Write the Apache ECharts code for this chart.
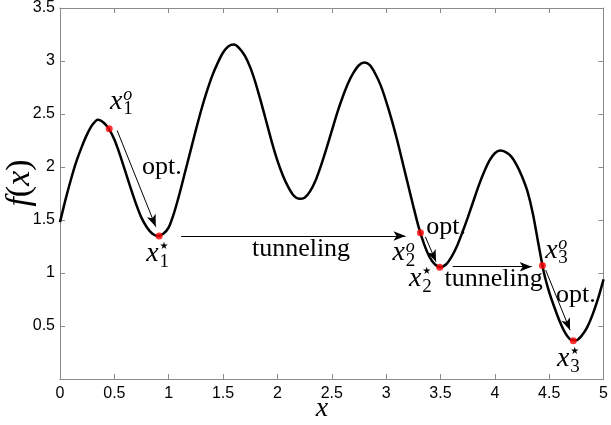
<!DOCTYPE html>
<html>
<head>
<meta charset="utf-8">
<script src="https://cdn.jsdelivr.net/npm/echarts@6/dist/echarts.min.js"></script>
<style>
  html, body { margin: 0; padding: 0; background: #fff; }
  #chart { width: 611px; height: 425px; }
</style>
</head>
<body>
<div id="chart"></div>
<script>
// curve f(x), every 0.05
const xValues = [0, 0.05, 0.1, 0.15, 0.2, 0.25, 0.3, 0.35, 0.4, 0.45,
  0.5, 0.55, 0.6, 0.65, 0.7, 0.75, 0.8, 0.85, 0.9, 0.95,
  1.0, 1.05, 1.1, 1.15, 1.2, 1.25, 1.3, 1.35, 1.4, 1.45,
  1.5, 1.55, 1.6, 1.65, 1.7, 1.75, 1.8, 1.85, 1.9, 1.95,
  2.0, 2.05, 2.1, 2.15, 2.2, 2.25, 2.3, 2.35, 2.4, 2.45,
  2.5, 2.55, 2.6, 2.65, 2.7, 2.75, 2.8, 2.85, 2.9, 2.95,
  3.0, 3.05, 3.1, 3.15, 3.2, 3.25, 3.3, 3.35, 3.4, 3.45,
  3.5, 3.55, 3.6, 3.65, 3.7, 3.75, 3.8, 3.85, 3.9, 3.95,
  4.0, 4.05, 4.1, 4.15, 4.2, 4.25, 4.3, 4.35, 4.4, 4.45,
  4.5, 4.55, 4.6, 4.65, 4.7, 4.75, 4.8, 4.85, 4.9, 4.95, 5.0];
const fValues = [1.48, 1.69, 1.88, 2.05, 2.19, 2.31, 2.40, 2.445, 2.42, 2.36,
  2.26, 2.12, 1.96, 1.80, 1.65, 1.52, 1.43, 1.37, 1.35, 1.37,
  1.43, 1.57, 1.75, 1.95, 2.15, 2.35, 2.54, 2.71, 2.86, 2.98,
  3.08, 3.14, 3.155, 3.12, 3.05, 2.94, 2.79, 2.61, 2.42, 2.23,
  2.06, 1.92, 1.81, 1.73, 1.70, 1.71, 1.77, 1.87, 2.01, 2.17,
  2.34, 2.51, 2.66, 2.79, 2.89, 2.96, 2.985, 2.96, 2.88, 2.77,
  2.62, 2.45, 2.26, 2.05, 1.84, 1.63, 1.43, 1.27, 1.15, 1.08,
  1.055, 1.08, 1.15, 1.25, 1.38, 1.52, 1.67, 1.82, 1.95, 2.06,
  2.13, 2.155, 2.14, 2.10, 2.02, 1.91, 1.77, 1.56, 1.28, 1.01,
  0.82, 0.67, 0.535, 0.43, 0.37, 0.365, 0.41, 0.49, 0.61, 0.76, 0.94];

// red points: start points x^o and minima x^*
const pointX = [0.453, 0.912, 3.316, 3.493, 4.438, 4.722];
const pointY = [2.36, 1.349, 1.38, 1.055, 1.07, 0.36];

// arrows (opt. / tunneling)
const arrowFrom = [[0.526, 2.344], [1.114, 1.349], [3.361, 1.342], [3.612, 1.059], [4.468, 1.027]];
const arrowTo = [[0.881, 1.437], [3.178, 1.349], [3.459, 1.106], [4.339, 1.059], [4.692, 0.46]];

// point labels: x with sup / sub, anchored in data coords
const pointLabels = [
  { at: [0.517, 2.59], sup: 'o', sub: '1' },
  { at: [0.850, 1.153], sup: '★', sub: '1' },
  { at: [3.116, 1.160], sup: 'o', sub: '2' },
  { at: [3.268, 0.919], sup: '★', sub: '2' },
  { at: [4.520, 1.185], sup: 'o', sub: '3' },
  { at: [4.630, 0.162], sup: '★', sub: '3' }
];
const wordLabels = [
  { at: [0.938, 1.97], text: 'opt.' },
  { at: [2.217, 1.196], text: 'tunneling' },
  { at: [3.552, 1.401], text: 'opt.' },
  { at: [3.988, 0.914], text: 'tunneling' },
  { at: [4.745, 0.767], text: 'opt.' }
];

const AXIS_GRAY = '#8a8a8a';
const SERIF = '"Liberation Serif", "Times New Roman", serif';

const chart = echarts.init(document.getElementById('chart'), null, { renderer: 'canvas' });

const axisCommon = {
  type: 'value',
  splitLine: { show: false },
  axisLine: { show: true, onZero: false, lineStyle: { color: AXIS_GRAY, width: 1 } },
  axisTick: { show: true, inside: true, length: 5, lineStyle: { color: AXIS_GRAY } },
  axisLabel: { color: '#000', fontFamily: '"Liberation Sans", Arial, sans-serif', fontSize: 16 }
};

const curve = xValues.map((x, i) => [x, fValues[i]]);
const points = pointX.map((x, i) => [x, pointY[i]]);
const arrows = arrowFrom.map((p, i) => [{ coord: p }, { coord: arrowTo[i] }]);

chart.setOption({
  animation: false,
  grid: { left: 60, right: 5, top: 8, bottom: 46 },
  xAxis: [
    Object.assign({}, axisCommon, {
      min: 0, max: 5, interval: 0.5, position: 'bottom',
      axisLabel: Object.assign({}, axisCommon.axisLabel, { margin: 7 })
    }),
    Object.assign({}, axisCommon, {
      min: 0, max: 5, interval: 0.5, position: 'top',
      axisLabel: { show: false }
    })
  ],
  yAxis: [
    Object.assign({}, axisCommon, {
      min: 0, max: 3.5, interval: 0.5, position: 'left',
      axisLabel: Object.assign({}, axisCommon.axisLabel, {
        margin: 5,
        formatter: function (v) { return v === 0 ? '' : v; }
      })
    }),
    Object.assign({}, axisCommon, {
      min: 0, max: 3.5, interval: 0.5, position: 'right',
      axisLabel: { show: false }
    })
  ],
  series: [
    {
      type: 'line',
      data: curve,
      smooth: 0.25,
      showSymbol: false,
      z: 3,
      lineStyle: { color: '#000', width: 2.5 },
      markLine: {
        silent: true,
        symbol: ['none', 'arrow'],
        symbolSize: [7, 12],
        label: { show: false },
        lineStyle: { color: '#000', width: 1, type: 'solid' },
        emphasis: { disabled: true },
        data: arrows
      }
    },
    {
      type: 'scatter',
      data: points,
      symbol: 'circle',
      symbolSize: 7,
      z: 5,
      itemStyle: { color: '#ff0000' }
    }
  ]
});

// text annotations
function px(p) { return chart.convertToPixel({ xAxisIndex: 0, yAxisIndex: 0 }, p); }

const graphics = [];
pointLabels.forEach(function (l) {
  const c = px(l.at);
  const isStar = l.sup === '★';
  graphics.push({
    type: 'text', x: c[0], y: c[1] - 3, z: 1,
    style: { text: 'x', font: 'italic 28px ' + SERIF, fill: '#000', align: 'center', verticalAlign: 'middle' }
  });
  graphics.push({
    type: 'text', x: c[0] + 7, y: c[1] - (isStar ? 10 : 9), z: 1,
    style: {
      text: l.sup,
      font: isStar ? '10px "DejaVu Sans"' : 'italic 18px ' + SERIF,
      fill: '#000', align: 'left', verticalAlign: 'middle'
    }
  });
  graphics.push({
    type: 'text', x: c[0] + 7, y: c[1] + 5, z: 1,
    style: { text: l.sub, font: '19px ' + SERIF, fill: '#000', align: 'left', verticalAlign: 'middle' }
  });
});
wordLabels.forEach(function (l) {
  const c = px(l.at);
  graphics.push({
    type: 'text', x: c[0], y: c[1] - 3, z: 1,
    style: { text: l.text, font: '26px ' + SERIF, fill: '#000', align: 'center', verticalAlign: 'middle' }
  });
});
// axis titles
graphics.push({
  type: 'text', x: 322, y: 409, z: 1,
  style: { text: 'x', font: 'italic 28px ' + SERIF, fill: '#000', align: 'center', verticalAlign: 'middle' }
});
graphics.push({
  type: 'text', x: 20, y: 183, z: 1, rotation: Math.PI / 2,
  style: {
    text: '{i|f}{n|(}{i|x}{n|)}',
    align: 'center', verticalAlign: 'middle',
    rich: {
      i: { font: 'italic 34px ' + SERIF, fill: '#000' },
      n: { font: '34px ' + SERIF, fill: '#000' }
    }
  }
});

chart.setOption({ graphic: graphics });
</script>
</body>
</html>
